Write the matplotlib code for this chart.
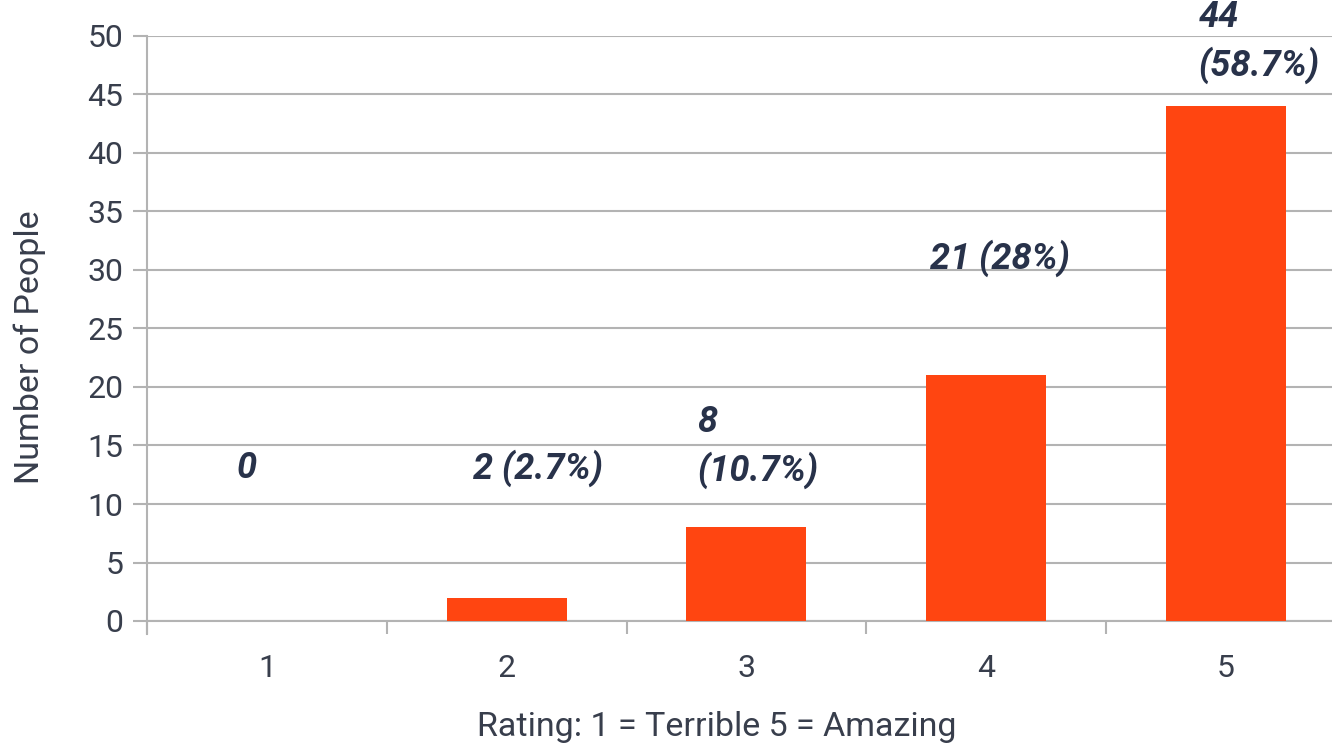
import numpy as np
import matplotlib.pyplot as plt

# survey data
ratings = [1, 2, 3, 4, 5]
counts = [0, 2, 8, 21, 44]
labels = ['0', '2 (2.7%)', '8\n(10.7%)', '21 (28%)', '44\n(58.7%)']
# where the value labels sit (data units, left edge / vertical centre)
label_x = [0.875, 1.86, 2.795, 3.765, 4.885]
label_y = [13.1, 13.1, 14.9, 31.0, 49.5]

plt.rcParams['font.family'] = ['Roboto', 'DejaVu Sans']

fig = plt.figure(figsize=(13.32, 7.49), dpi=100)
ax = fig.add_axes([147/1332, 128/749, 1185/1332, 585/749])

grid_col = '#b3b3b3'
txt_col = '#383e4c'

ax.bar(ratings, counts, width=0.5, color='#ff4511', zorder=3)

for x, y, s in zip(label_x, label_y, labels):
    ax.text(x, y, s, ha='left', va='center', fontsize=26, fontweight='bold',
            fontstyle='italic', color='#28324a', linespacing=1.4, zorder=4)

ax.set_yticks(np.arange(0, 51, 5))
ax.set_xticks(ratings)
ax.set_xticks(np.arange(0.5, 5.6, 1), minor=True)
ax.set_xlim(0.5, 0.5 + 1185/239.75)
ax.set_ylim(0, 50)
ax.yaxis.grid(True, color=grid_col, linewidth=1.5, zorder=0)

ax.tick_params(axis='y', length=10, width=1.5, color=grid_col, labelsize=23,
               labelcolor=txt_col, pad=7)
ax.tick_params(axis='x', which='major', length=0, labelsize=23, labelcolor=txt_col, pad=24)
ax.tick_params(axis='x', which='minor', length=9, width=1.5, color=grid_col)

for side in ['top', 'right']:
    ax.spines[side].set_visible(False)
for side in ['left', 'bottom']:
    ax.spines[side].set_color(grid_col)
    ax.spines[side].set_linewidth(1.5)
ax.spines['left'].set_bounds(-1.1, 50)

ax.set_ylabel('Number of People', fontsize=24.5, color=txt_col)
ax.set_xlabel('Rating: 1 = Terrible 5 = Amazing', fontsize=24.5, color=txt_col)
ax.yaxis.label.set_verticalalignment('center')
ax.xaxis.label.set_verticalalignment('center')
ax.yaxis.set_label_coords(-0.0987, 0.468)
ax.xaxis.set_label_coords(0.481, -0.181)

fig.savefig('out.png', dpi=100)
